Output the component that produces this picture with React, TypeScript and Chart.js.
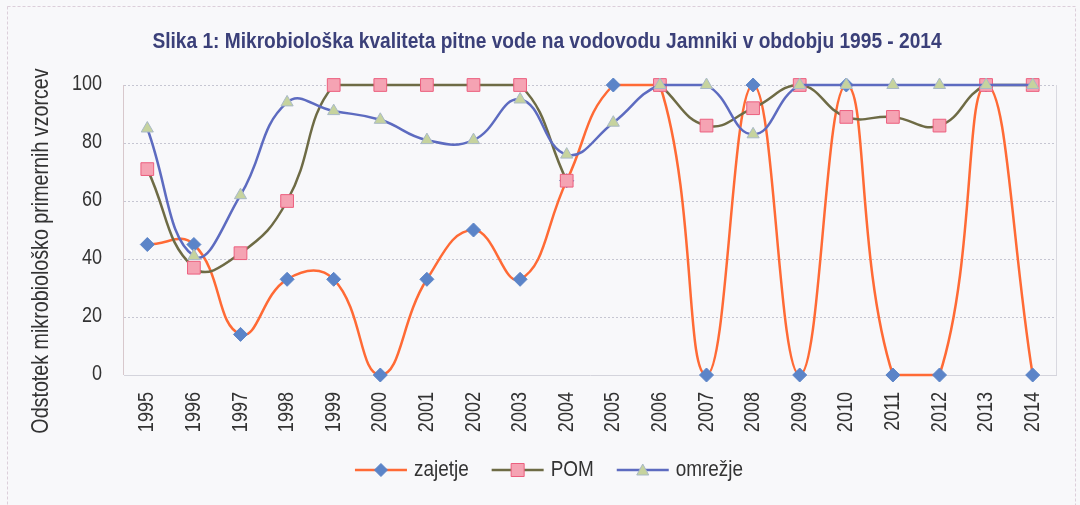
import React, { useEffect, useRef } from "react";
import { Chart, registerables } from "chart.js";

Chart.register(...registerables);

const years = ["1995","1996","1997","1998","1999","2000","2001","2002","2003","2004","2005","2006","2007","2008","2009","2010","2011","2012","2013","2014"];
const zajetje = [45, 45, 14, 33, 33, 0, 33, 50, 33, 67, 100, 100, 0, 100, 0, 100, 0, 0, 100, 0];
const pom = [71, 37, 42, 60, 100, 100, 100, 100, 100, 67, null, 100, 86, 92, 100, 89, 89, 86, 100, 100];
const omrezje = [85, 41, 62, 94, 91, 88, 81, 81, 95, 76, 87, 100, 100, 83, 100, 100, 100, 100, 100, 100];
const seriesNames = ["zajetje", "POM", "omrežje"];
const yTicks = [0, 20, 40, 60, 80, 100];
const titleText = "Slika 1: Mikrobiološka kvaliteta pitne vode na vodovodu Jamniki v obdobju 1995 - 2014";
const yTitle = "Odstotek mikrobiološko primernih vzorcev";

const FAMILY = '"Liberation Sans", Arial, sans-serif';
const TEXT = "#333333";

const styles = [
  { line: "#FF6A35", fill: "#5B84C8", border: "#5B84C8", style: "rectRot", radius: 7, order: 3 },
  { line: "#6E6B45", fill: "#F5A3B3", border: "#EC5F7E", style: "rect", radius: 9, order: 2 },
  { line: "#5D6BC0", fill: "#C6D39E", border: "#A9B9C6", style: "triangle", radius: 7, order: 1 },
];

function narrowText(ctx: CanvasRenderingContext2D, text: string, x: number, y: number, size: number, opts: any = {}) {
  ctx.save();
  ctx.translate(x, y);
  if (opts.rotate) ctx.rotate(-Math.PI / 2);
  ctx.scale(opts.sx || 0.82, 1);
  ctx.font = `${opts.bold ? "bold " : ""}${size}px ${FAMILY}`;
  ctx.fillStyle = opts.color || TEXT;
  ctx.textAlign = opts.align || "center";
  ctx.textBaseline = "middle";
  ctx.fillText(text, 0, 0);
  ctx.restore();
}

function narrowWidth(ctx: CanvasRenderingContext2D, text: string, size: number, sx: number) {
  ctx.save();
  ctx.font = `${size}px ${FAMILY}`;
  const w = ctx.measureText(text).width * sx;
  ctx.restore();
  return w;
}

function drawMarker(ctx: CanvasRenderingContext2D, i: number, cx: number, cy: number) {
  const s = styles[i];
  ctx.fillStyle = s.fill;
  ctx.strokeStyle = s.border;
  ctx.lineWidth = 1;
  ctx.beginPath();
  if (s.style === "rectRot") {
    ctx.moveTo(cx, cy - 6.5); ctx.lineTo(cx + 6.5, cy); ctx.lineTo(cx, cy + 6.5); ctx.lineTo(cx - 6.5, cy); ctx.closePath();
  } else if (s.style === "rect") {
    ctx.rect(cx - 6.5, cy - 6.5, 13, 13);
  } else {
    ctx.moveTo(cx, cy - 6); ctx.lineTo(cx + 6, cy + 5); ctx.lineTo(cx - 6, cy + 5); ctx.closePath();
  }
  ctx.fill();
  ctx.stroke();
}

const textPlugin = {
  id: "texts",
  beforeDraw(chart: any) {
    const ctx = chart.ctx;
    ctx.save();
    ctx.fillStyle = "#F8F8FA";
    ctx.fillRect(0, 0, chart.width, chart.height);
    ctx.strokeStyle = "#DCCFDA";
    ctx.lineWidth = 1;
    ctx.setLineDash([3, 2]);
    ctx.strokeRect(7.5, 6.5, chart.width - 12, chart.height - 4);
    ctx.restore();
  },
  beforeDatasetsDraw(chart: any) {
    const { ctx, chartArea: a } = chart;
    ctx.save();
    ctx.strokeStyle = "#D9D9E0";
    ctx.lineWidth = 1;
    ctx.beginPath();
    ctx.moveTo(Math.round(a.right) + 0.5, a.top);
    ctx.lineTo(Math.round(a.right) + 0.5, a.bottom);
    ctx.stroke();
    ctx.strokeStyle = "#D8C8CC";
    ctx.beginPath();
    ctx.moveTo(Math.round(a.left) - 0.5, a.top);
    ctx.lineTo(Math.round(a.left) - 0.5, a.bottom);
    ctx.stroke();
    ctx.restore();
  },
  afterDraw(chart: any) {
    const { ctx, chartArea: a, scales } = chart;
    narrowText(ctx, titleText, 547, 42, 22, { bold: true, color: "#3B4079", sx: 0.87 });
    narrowText(ctx, yTitle, 41, 251, 24, { rotate: true });
    const ys = scales.y;
    yTicks.forEach((v) => {
      narrowText(ctx, String(v), a.left - 22, ys.getPixelForValue(v) - 1, 22, { align: "right" });
    });
    const xs = scales.x;
    years.forEach((lab, i) => {
      narrowText(ctx, lab, xs.getPixelForValue(i), a.bottom + 17, 22, { rotate: true, align: "right" });
    });
    const iconW = 52, gap = 7, spacing = 23, size = 22, sx = 0.86;
    const widths = seriesNames.map((n) => narrowWidth(ctx, n, size, sx));
    const total = widths.reduce((s, w) => s + iconW + gap + w, 0) + spacing * (seriesNames.length - 1);
    let x = 549 - total / 2;
    const y = 470;
    seriesNames.forEach((n, i) => {
      ctx.save();
      ctx.strokeStyle = styles[i].line;
      ctx.lineWidth = 2.5;
      ctx.beginPath();
      ctx.moveTo(x, y);
      ctx.lineTo(x + iconW, y);
      ctx.stroke();
      drawMarker(ctx, i, x + iconW / 2, y);
      ctx.restore();
      narrowText(ctx, n, x + iconW + gap, y, size, { align: "left", sx });
      x += iconW + gap + widths[i] + spacing;
    });
  },
};

export default function App() {
  const ref = useRef<HTMLCanvasElement>(null);
  useEffect(() => {
    const data = [zajetje, pom, omrezje];
    const chart = new Chart(ref.current!, {
      type: "line",
      data: {
        labels: years,
        datasets: data.map((d, i) => ({
          label: seriesNames[i],
          data: d,
          order: styles[i].order,
          borderColor: styles[i].line,
          borderWidth: 2.5,
          backgroundColor: styles[i].fill,
          pointBackgroundColor: styles[i].fill,
          pointBorderColor: styles[i].border,
          pointBorderWidth: 1,
          pointStyle: styles[i].style,
          pointRadius: styles[i].radius,
          tension: 0.45,
          spanGaps: false,
          clip: false,
          fill: false,
        })),
      },
      options: {
        animation: false,
        responsive: false,
        devicePixelRatio: 1,
        layout: { padding: { left: 0, right: 24, top: 85, bottom: 0 } },
        plugins: {
          tooltip: { enabled: false },
          title: { display: false },
          legend: { display: false },
        },
        scales: {
          x: {
            offset: true,
            grid: { display: false, drawTicks: false },
            border: { display: true, color: "#D4D4DC", dash: [2, 2] },
            ticks: { display: false },
            afterFit: (s: any) => { s.height = 130; },
          },
          y: {
            min: 0,
            max: 100,
            afterBuildTicks: (s: any) => { s.ticks = yTicks.map((v) => ({ value: v })); },
            grid: { color: "#C6C6D2", drawTicks: false, lineWidth: 1 },
            border: { display: false, dash: [2, 2] },
            ticks: { display: false },
            afterFit: (s: any) => { s.width = 124; },
          },
        },
      },
      plugins: [textPlugin],
    } as any);
    return () => chart.destroy();
  }, []);
  return (
    <div style={{ position: "fixed", left: 0, top: 0, width: 1080, height: 505 }}>
      <canvas ref={ref} width={1080} height={505} style={{ width: 1080, height: 505, display: "block" }} />
    </div>
  );
}
